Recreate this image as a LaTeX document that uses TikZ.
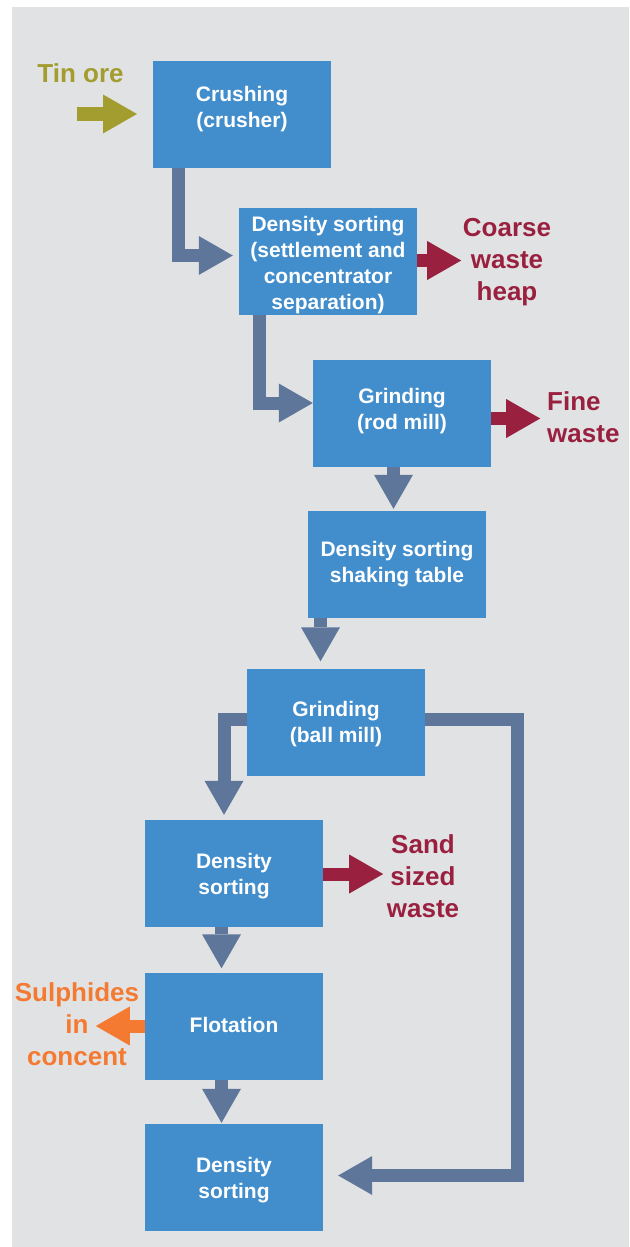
\documentclass[tikz,border=0pt]{standalone}
\usepackage{fontspec}
\setmainfont{Liberation Sans}
\usetikzlibrary{arrows.meta,calc}
\definecolor{bgc}{HTML}{E1E2E4}
\definecolor{boxc}{HTML}{428DCB}
\definecolor{flowc}{HTML}{5E7699}
\definecolor{wastec}{HTML}{99213F}
\definecolor{olivec}{HTML}{A39C2F}
\definecolor{orangec}{HTML}{F47A32}
\begin{document}
\begin{tikzpicture}[x=1pt,y=-1pt,
  box/.style={fill=boxc, minimum width=178pt, minimum height=107pt, inner sep=0pt},
  btext/.style={text=white, font=\fontsize{21}{26}\selectfont\bfseries, align=center, inner sep=0pt},
  ltext/.style={font=\fontsize{26}{32}\selectfont\bfseries, align=center, inner sep=0pt},
  flow/.style={draw=flowc, line width=13pt, line join=miter,
    -{Triangle[width=39pt,length=34pt,line width=0pt]}},
]
\useasboundingbox (0,0) rectangle (629,1247);
\fill[bgc] (12,7) rectangle (629,1247);

% boxes
\node[box] (crush) at (242,114.5) {};
\node[box] (ds1)   at (328,261.5) {};
\node[box] (rod)   at (402,413.5) {};
\node[box] (shake) at (397,564.5) {};
\node[box] (ball)  at (336,722) {};
\node[box] (ds2)   at (234,873.5) {};
\node[box] (flot)  at (234,1026) {};
\node[box] (ds3)   at (234,1177.5) {};

% box texts
\node[btext] (tcrush) at (242,109) {Crushing\\(crusher)};
\node[btext] (tds1)   at (328,265) {Density sorting\\(settlement and\\concentrator\\separation)};
\node[btext] (trod)   at (402,411) {Grinding\\(rod mill)};
\node[btext] (tshake) at (397,564.5) {Density sorting\\shaking table};
\node[btext] (tball)  at (336,724) {Grinding\\(ball mill)};
\node[btext] (tds2)   at (234,876) {Density\\sorting};
\node[btext] (tflot)  at (234,1025) {Flotation};
\node[btext] (tds3)   at (234,1180) {Density\\sorting};

% outside labels
\node[ltext, text=olivec] (tin) at (80.5,73.5) {Tin ore};
\node[ltext, text=wastec] (coarse) at (507,262.5) {Coarse\\waste\\heap};
\node[ltext, text=wastec, align=left, anchor=west] (fine) at (547,417.7) {Fine\\waste};
\node[ltext, text=wastec] (sand) at (423,876) {Sand\\sized\\waste};
\node[ltext, text=orangec] (sulph) at (77,1024.5) {Sulphides\\in\\concent};

% free end coordinates
\coordinate (tinstart) at (77,114);
\coordinate (tinend) at (137,114);
\coordinate (loopc) at (517.5,1000);

% connectors
\draw[flow, draw=olivec, line width=14pt] (tinstart) -- (tinend);
\draw[flow] ($(crush.south)+(-63.5,0)$) |- ($(ds1.west)+(-6,-6)$);
\draw[flow, draw=wastec] ($(ds1.east)+(0,-1)$) -- ($(ds1.east)+(44,-1)$);
\draw[flow] ($(ds1.south)+(-68.5,0)$) |- ($(rod.west)+(0,-10.5)$);
\draw[flow, draw=wastec] ($(rod.east)+(0,5)$) -- ($(rod.east)+(49,5)$);
\draw[flow] ($(rod.south)+(-8.5,0)$) -- ($(shake.north)+(-3.5,-2)$);
\draw[flow] ($(shake.south)+(-76.5,0)$) -- ($(ball.north)+(-15.5,-7)$);
\draw[flow] ($(ball.west)+(0,-2.5)$) -| ($(ds2.north)+(-10,-5)$);
\draw[flow] ($(ball.east)+(0,-2.5)$) -| (loopc) |- ($(ds3.east)+(15,-2)$);
\draw[flow, draw=wastec] ($(ds2.east)+(0,0.5)$) -- ($(ds2.east)+(60,0.5)$);
\draw[flow] ($(ds2.south)+(-12.5,0)$) -- ($(flot.north)+(-12.5,-4)$);
\draw[flow, draw=orangec] (flot.west) -- ($(flot.west)+(-49,0)$);
\draw[flow] ($(flot.south)+(-12.5,0)$) -- ($(ds3.north)+(-12.5,-1)$);
\end{tikzpicture}
\end{document}
